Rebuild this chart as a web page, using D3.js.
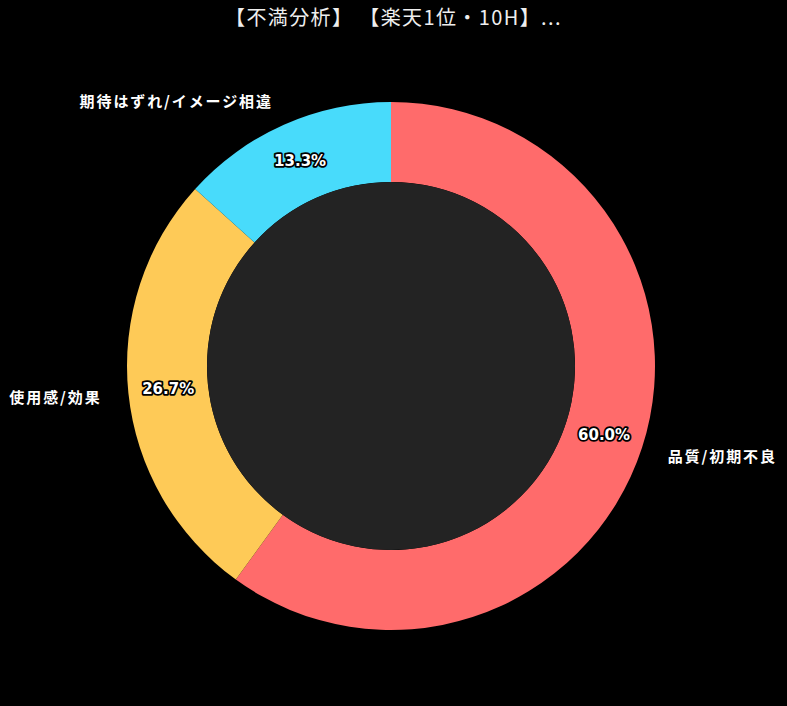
<!DOCTYPE html>
<html>
<head>
<meta charset="utf-8">
<script src="https://cdn.jsdelivr.net/npm/d3@7"></script>
<style>
  html, body { margin: 0; padding: 0; background: #000; }
  svg { display: block; }
</style>
</head>
<body>
<svg id="chart" width="787" height="706"></svg>
<script>
const categories = ['品質/初期不良', '使用感/効果', '期待はずれ/イメージ相違'];
const values = [60.0, 26.7, 13.3];
const colors = ['#FF6B6B', '#FECA57', '#48DBFB'];
const title = '【不満分析】 【楽天1位・10H】...';

const W = 787, H = 706;
const cx = 391, cy = 366;
const outerR = 264, innerR = 184;
const font = '"Noto Sans CJK JP", "Noto Sans", sans-serif';

const svg = d3.select('#chart');
svg.append('rect').attr('width', W).attr('height', H).attr('fill', '#000');

svg.append('text')
  .attr('x', W / 2)
  .attr('y', 20)
  .attr('text-anchor', 'middle')
  .attr('dominant-baseline', 'middle')
  .attr('fill', '#eeeeee')
  .style('font-family', font)
  .style('font-size', '20px')
  .style('letter-spacing', '1.4px')
  .text(title);

const data = categories.map((c, i) => ({ name: c, value: values[i], color: colors[i] }));
const pie = d3.pie().value(d => d.value).sort(null);
const arcs = pie(data);

const g = svg.append('g').attr('transform', `translate(${cx},${cy})`);

const arc = d3.arc().innerRadius(innerR).outerRadius(outerR);
g.selectAll('path.slice')
  .data(arcs)
  .enter().append('path')
  .attr('class', 'slice')
  .attr('d', arc)
  .attr('fill', d => d.data.color);

// dark center fill
g.append('circle').attr('r', innerR).attr('fill', '#232323');

// percentage labels in the middle of the ring
const midArc = d3.arc().innerRadius((innerR + outerR) / 2).outerRadius((innerR + outerR) / 2);
const total = d3.sum(values);
g.selectAll('text.pct')
  .data(arcs)
  .enter().append('text')
  .attr('class', 'pct')
  .attr('transform', d => `translate(${midArc.centroid(d)})`)
  .attr('text-anchor', 'middle')
  .attr('dominant-baseline', 'central')
  .attr('fill', '#fff')
  .attr('stroke', '#000')
  .attr('stroke-width', 3.5)
  .attr('stroke-linejoin', 'round')
  .attr('paint-order', 'stroke')
  .style('font-family', '"DejaVu Sans", sans-serif')
  .style('font-weight', 'bold')
  .style('font-size', '15px')
  .text(d => (d.data.value / total * 100).toFixed(1) + '%');

// category labels outside
const labelArc = d3.arc().innerRadius(291).outerRadius(291);
g.selectAll('text.cat')
  .data(arcs)
  .enter().append('text')
  .attr('class', 'cat')
  .attr('transform', d => `translate(${labelArc.centroid(d)})`)
  .attr('text-anchor', d => labelArc.centroid(d)[0] > 0 ? 'start' : 'end')
  .attr('dominant-baseline', 'central')
  .attr('fill', '#fff')
  .style('font-family', font)
  .style('font-weight', 'bold')
  .style('font-size', '15px')
  .style('letter-spacing', '1.9px')
  .text(d => d.data.name);
</script>
</body>
</html>
